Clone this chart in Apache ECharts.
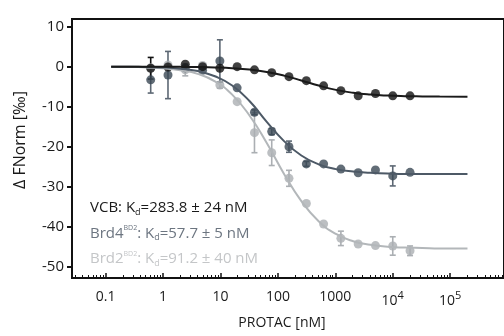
<!DOCTYPE html>
<html>
<head>
<meta charset="utf-8">
<script src="https://cdn.jsdelivr.net/npm/echarts@6/dist/echarts.min.js"></script>
<style>
html,body{margin:0;padding:0;background:#fff;}
#chart{width:504px;height:336px;}
</style>
</head>
<body>
<div id="chart"></div>
<script>
// ---- data ----
const conc = [0.61, 1.22, 2.44, 4.88, 9.77, 19.5, 39.1, 78.1, 156, 313, 625, 1250, 2500, 5000, 10000, 20000];
const vcbVals  = [-0.4, -0.1, 0.6, 0.0, -0.4, 0.0, -0.8, -1.5, -2.5, -3.5, -4.8, -6.0, -7.3, -6.7, -7.3, -7.3];
const vcbErr   = [2.7, 0, 0, 0, 0, 0, 0, 0, 0, 0, 0, 0, 0, 0, 0, 0];
const brd4Vals = [-3.3, -2.1, -0.3, -0.9, 1.4, -5.3, -11.4, -16.2, -20.0, -24.3, -24.3, -25.6, -26.5, -25.8, -27.3, -26.4];
const brd4Err  = [3.3, 5.9, 0, 0, 5.3, 0, 0.6, 0.8, 1.4, 0.6, 0, 0, 0, 0, 2.5, 0];
const brd2Vals = [-0.3, 0.4, -0.8, 0.3, -4.6, -8.75, -16.5, -21.5, -27.9, -34.2, -39.3, -42.9, -44.3, -44.7, -44.8, -46.0];
const brd2Err  = [0, 0, 1.5, 0, 0.8, 0, 5, 3.2, 2, 0, 0, 1.8, 0, 0, 2.3, 1.2];

const fitConc = [0.125, 0.25, 0.5, 1, 2, 4, 8, 16, 32, 64, 128, 256, 512, 1024, 2048, 4096, 8192, 16384, 32768, 65536, 200000];
const vcbFit  = [0, 0, -0.01, -0.03, -0.05, -0.1, -0.2, -0.38, -0.72, -1.32, -2.24, -3.45, -4.73, -5.8, -6.54, -6.99, -7.24, -7.37, -7.43, -7.47, -7.5];
const brd4Fit = [0, 0, -0.1, -0.2, -0.5, -1.1, -2.4, -4.7, -8.6, -13.8, -18.6, -22.2, -24.4, -25.6, -26.2, -26.5, -26.7, -26.8, -26.8, -26.8, -26.8];
const brd2Fit = [0, 0, -0.2, -0.4, -0.9, -1.8, -3.7, -7.0, -12.2, -19.1, -26.8, -33.6, -38.6, -41.8, -43.6, -44.5, -45.0, -45.2, -45.3, -45.4, -45.4];

const xTickVals = [0.1, 1, 10, 100, 1000, 10000, 100000];
const xTickLabels = ['0.1', '1', '10', '100', '1000', '10{sup|4}', '10{sup|5}'];
const yTickVals = [-50, -40, -30, -20, -10, 0, 10];
const yTickLabels = ['-50', '-40', '-30', '-20', '-10', '0', '10'];

const kdLines = [
  'VCB: K{sub|d}=283.8 ± 24 nM',
  'Brd4{sup|BD2}: K{sub|d}=57.7 ± 5 nM',
  'Brd2{sup|BD2}: K{sub|d}=91.2 ± 40 nM'
];
const xTitle = 'PROTAC [nM]';
const yTitle = 'Δ FNorm [‰]';

// ---- style ----
const FONT = 'Open Sans';
const colVCB = '#111111', colBrd4 = '#3b4855', colBrd2 = '#abafb3';
const lineVCB = '#1a1a1a', lineBrd4 = '#4d5966', lineBrd2 = '#b3b7ba';
const txtCols = ['#1a1a1a', '#6c7580', '#c4c6c8'];

const minorTicks = [];
for (let k = -2; k <= 5; k++) for (let m = 2; m <= 9; m++) {
  const v = m * Math.pow(10, k);
  if (v > 0.026 && v < 865000) minorTicks.push(v);
}

function pts(xs, ys) { return xs.map((x, i) => [x, ys[i]]); }
function errs(xs, ys, es) {
  const out = [];
  xs.forEach((x, i) => { if (es[i] > 0) out.push([x, ys[i] - es[i], ys[i] + es[i]]); });
  return out;
}
function errSeries(data, color) {
  return {
    type: 'custom', data: data, silent: true,
    renderItem: function (params, api) {
      const x = api.value(0);
      const a = api.coord([x, api.value(1)]);
      const b = api.coord([x, api.value(2)]);
      const w = 3;
      const st = { stroke: color, lineWidth: 1.6 };
      return { type: 'group', children: [
        { type: 'line', shape: { x1: a[0], y1: a[1], x2: b[0], y2: b[1] }, style: st },
        { type: 'line', shape: { x1: a[0] - w, y1: a[1], x2: a[0] + w, y2: a[1] }, style: st },
        { type: 'line', shape: { x1: b[0] - w, y1: b[1], x2: b[0] + w, y2: b[1] }, style: st }
      ]};
    }
  };
}
function lineSeries(data, color) {
  return { type: 'line', data: data, smooth: true, showSymbol: false, symbol: 'none',
    lineStyle: { color: color, width: 2 }, silent: true };
}
function scatterSeries(data, color) {
  return { type: 'scatter', data: data, symbolSize: 9, itemStyle: { color: color }, silent: true };
}

const chart = echarts.init(document.getElementById('chart'), null, { renderer: 'canvas' });
chart.setOption({
  animation: false,
  backgroundColor: '#ffffff',
  textStyle: { fontFamily: FONT },
  grid: { left: 72, right: -5, top: 19, bottom: 58, show: true, borderColor: '#111', borderWidth: 2, backgroundColor: 'transparent' },
  xAxis: [{
    type: 'log', logBase: 10, min: 0.026, max: 865000, position: 'bottom',
    axisLine: { show: true, onZero: false, lineStyle: { color: '#111', width: 2 } },
    axisTick: { show: true, inside: true, length: 5, customValues: xTickVals, lineStyle: { color: '#111', width: 1.5 } },
    splitLine: { show: false },
    axisLabel: {
      customValues: xTickVals, margin: 12, color: '#1a1a1a', fontSize: 14, fontFamily: FONT,
      formatter: function (v) {
        const i = xTickVals.findIndex(t => Math.abs(Math.log10(t) - Math.log10(v)) < 1e-6);
        return i >= 0 ? xTickLabels[i] : '';
      },
      rich: { sup: { fontSize: 11, fontFamily: FONT, color: '#1a1a1a', padding: [0, 0, 12, 0] } }
    }
  }, {
    type: 'log', logBase: 10, min: 0.026, max: 865000, position: 'bottom',
    axisLine: { show: false, onZero: false },
    axisTick: { show: true, inside: true, length: 3, customValues: minorTicks, lineStyle: { color: '#111', width: 1 } },
    axisLabel: { show: false },
    splitLine: { show: false }
  }],
  yAxis: {
    type: 'value', min: -52.8, max: 11.9,
    axisLine: { show: true, onZero: false, lineStyle: { color: '#111', width: 2 } },
    axisTick: { show: true, inside: false, length: 5, customValues: yTickVals, lineStyle: { color: '#111', width: 2 } },
    splitLine: { show: false },
    axisLabel: {
      customValues: yTickVals, margin: 8, color: '#1a1a1a', fontSize: 15, fontFamily: FONT,
      padding: [0, 0, 7, 0],
      formatter: function (v) {
        const i = yTickVals.indexOf(Math.round(v));
        return i >= 0 ? yTickLabels[i] : '';
      }
    }
  },
  graphic: [
    { type: 'text', x: 20, y: 140, rotation: Math.PI / 2, style: { text: yTitle, fontFamily: FONT, fontSize: 16, fill: '#1a1a1a', align: 'center', verticalAlign: 'middle' } },
    { type: 'text', x: 282, y: 323, style: { text: xTitle, fontFamily: FONT, fontSize: 14, fill: '#1a1a1a', align: 'center', verticalAlign: 'middle' } },
    ...kdLines.map((t, i) => ({
      type: 'text', x: 90, y: 208 + i * 25.5,
      style: {
        text: t, fontFamily: FONT, fontSize: 15, fill: txtCols[i], align: 'left', verticalAlign: 'middle',
        rich: {
          sub: { fontSize: 9, fontFamily: FONT, fill: txtCols[i], padding: [8, 0, 0, 0] },
          sup: { fontSize: 7, fontFamily: FONT, fill: txtCols[i], padding: [0, 0, 11, 0] }
        }
      }
    }))
  ],
  series: [
    lineSeries(pts(fitConc, brd2Fit), lineBrd2),
    errSeries(errs(conc, brd2Vals, brd2Err), colBrd2),
    scatterSeries(pts(conc, brd2Vals), colBrd2),
    lineSeries(pts(fitConc, brd4Fit), lineBrd4),
    errSeries(errs(conc, brd4Vals, brd4Err), '#5d6874'),
    scatterSeries(pts(conc, brd4Vals), colBrd4),
    lineSeries(pts(fitConc, vcbFit), lineVCB),
    errSeries(errs(conc, vcbVals, vcbErr), colVCB),
    scatterSeries(pts(conc, vcbVals), colVCB)
  ]
});
</script>
</body>
</html>
